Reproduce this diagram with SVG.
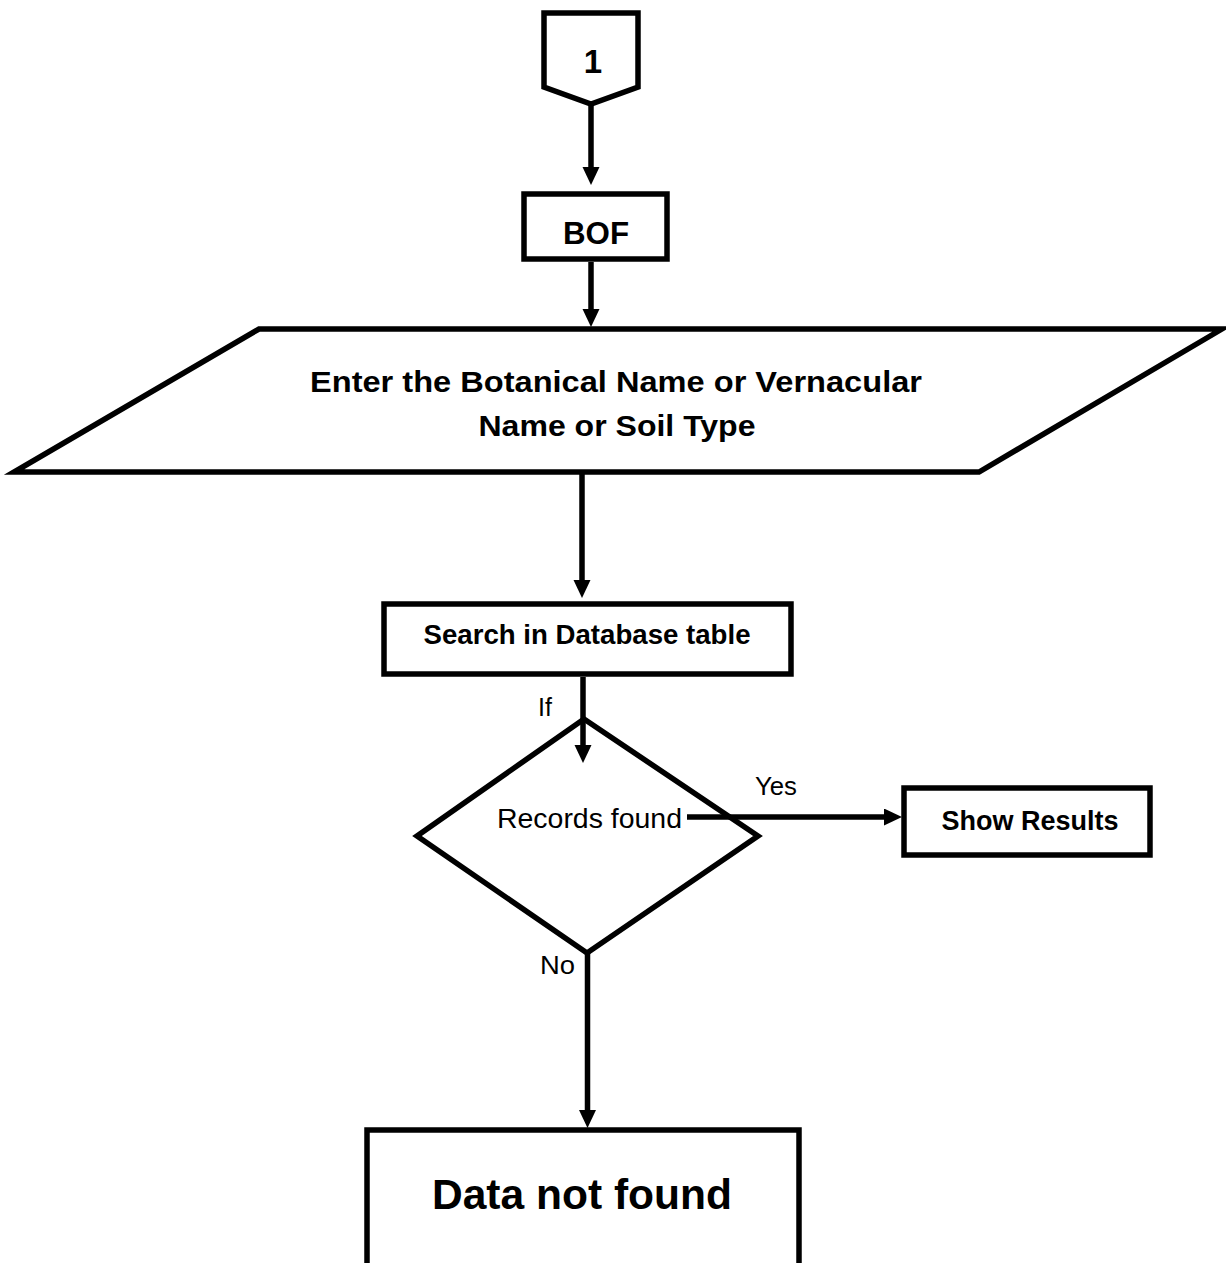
<svg xmlns="http://www.w3.org/2000/svg" width="1226" height="1263" viewBox="0 0 1226 1263">
<defs>
<marker id="ah" markerUnits="userSpaceOnUse" markerWidth="20" markerHeight="18" refX="1" refY="8.5" orient="auto">
<path d="M0,0 L18,8.5 L0,17 z" fill="#000"/>
</marker>
<style>
.shape{fill:#fff;stroke:#000;stroke-width:5.5;stroke-linejoin:miter}
.conn{fill:none;stroke:#000;stroke-width:5.5}
.b{font-family:"Liberation Sans",Arial,sans-serif;font-weight:bold;fill:#000;text-anchor:middle}
.r{font-family:"Liberation Sans",Arial,sans-serif;fill:#000}
</style>
</defs>
<rect width="1226" height="1263" fill="#fff"/>
<g id="connectors">
<line class="conn" x1="591" y1="104" x2="591" y2="168" marker-end="url(#ah)"/>
<line class="conn" x1="591" y1="262" x2="591" y2="310" marker-end="url(#ah)"/>
<line class="conn" x1="582" y1="474" x2="582" y2="581" marker-end="url(#ah)"/>
<line class="conn" x1="583" y1="677" x2="583" y2="746" marker-end="url(#ah)"/>
<line class="conn" x1="687" y1="817" x2="885" y2="817" marker-end="url(#ah)"/>
<line class="conn" x1="587.5" y1="953" x2="587.5" y2="1111" marker-end="url(#ah)"/>
</g>
<g id="node-connector1">
<polygon class="shape" points="544,13 638,13 638,87 591,104 544,87"/>
<text class="b" x="593" y="72.5" font-size="33">1</text>
</g>
<g id="node-bof">
<rect class="shape" x="524" y="194" width="143" height="65"/>
<text class="b" x="596" y="243.5" font-size="31" textLength="66" lengthAdjust="spacingAndGlyphs">BOF</text>
</g>
<g id="node-input">
<polygon class="shape" points="259,329 1222,329 979,472 14,472"/>
<text class="b" x="616" y="391.5" font-size="29" textLength="612" lengthAdjust="spacingAndGlyphs">Enter the Botanical Name or Vernacular</text>
<text class="b" x="617" y="435.5" font-size="29" textLength="277" lengthAdjust="spacingAndGlyphs">Name or Soil Type</text>
</g>
<g id="node-search">
<rect class="shape" x="384" y="604" width="407" height="70"/>
<text class="b" x="587" y="643.5" font-size="28" textLength="327" lengthAdjust="spacingAndGlyphs">Search in Database table</text>
</g>
<g id="node-decision">
<polygon class="shape" points="584,719 758,836 587,953 417,836" style="fill:none"/>
<text class="r" x="497" y="828" font-size="27" textLength="185" lengthAdjust="spacingAndGlyphs">Records found</text>
</g>
<g id="node-show">
<rect class="shape" x="904" y="788" width="246" height="67"/>
<text class="b" x="1030" y="829.5" font-size="27" textLength="177" lengthAdjust="spacingAndGlyphs">Show Results</text>
</g>
<g id="node-notfound">
<rect class="shape" x="367" y="1130" width="432" height="140"/>
<text class="b" x="582" y="1208.5" font-size="42" textLength="300" lengthAdjust="spacingAndGlyphs">Data not found</text>
</g>
<g id="labels">
<text class="r" x="538" y="716" font-size="25">If</text>
<text class="r" x="755" y="794.5" font-size="26" textLength="42" lengthAdjust="spacingAndGlyphs">Yes</text>
<text class="r" x="540" y="973.5" font-size="26" textLength="35" lengthAdjust="spacingAndGlyphs">No</text>
</g>
</svg>
